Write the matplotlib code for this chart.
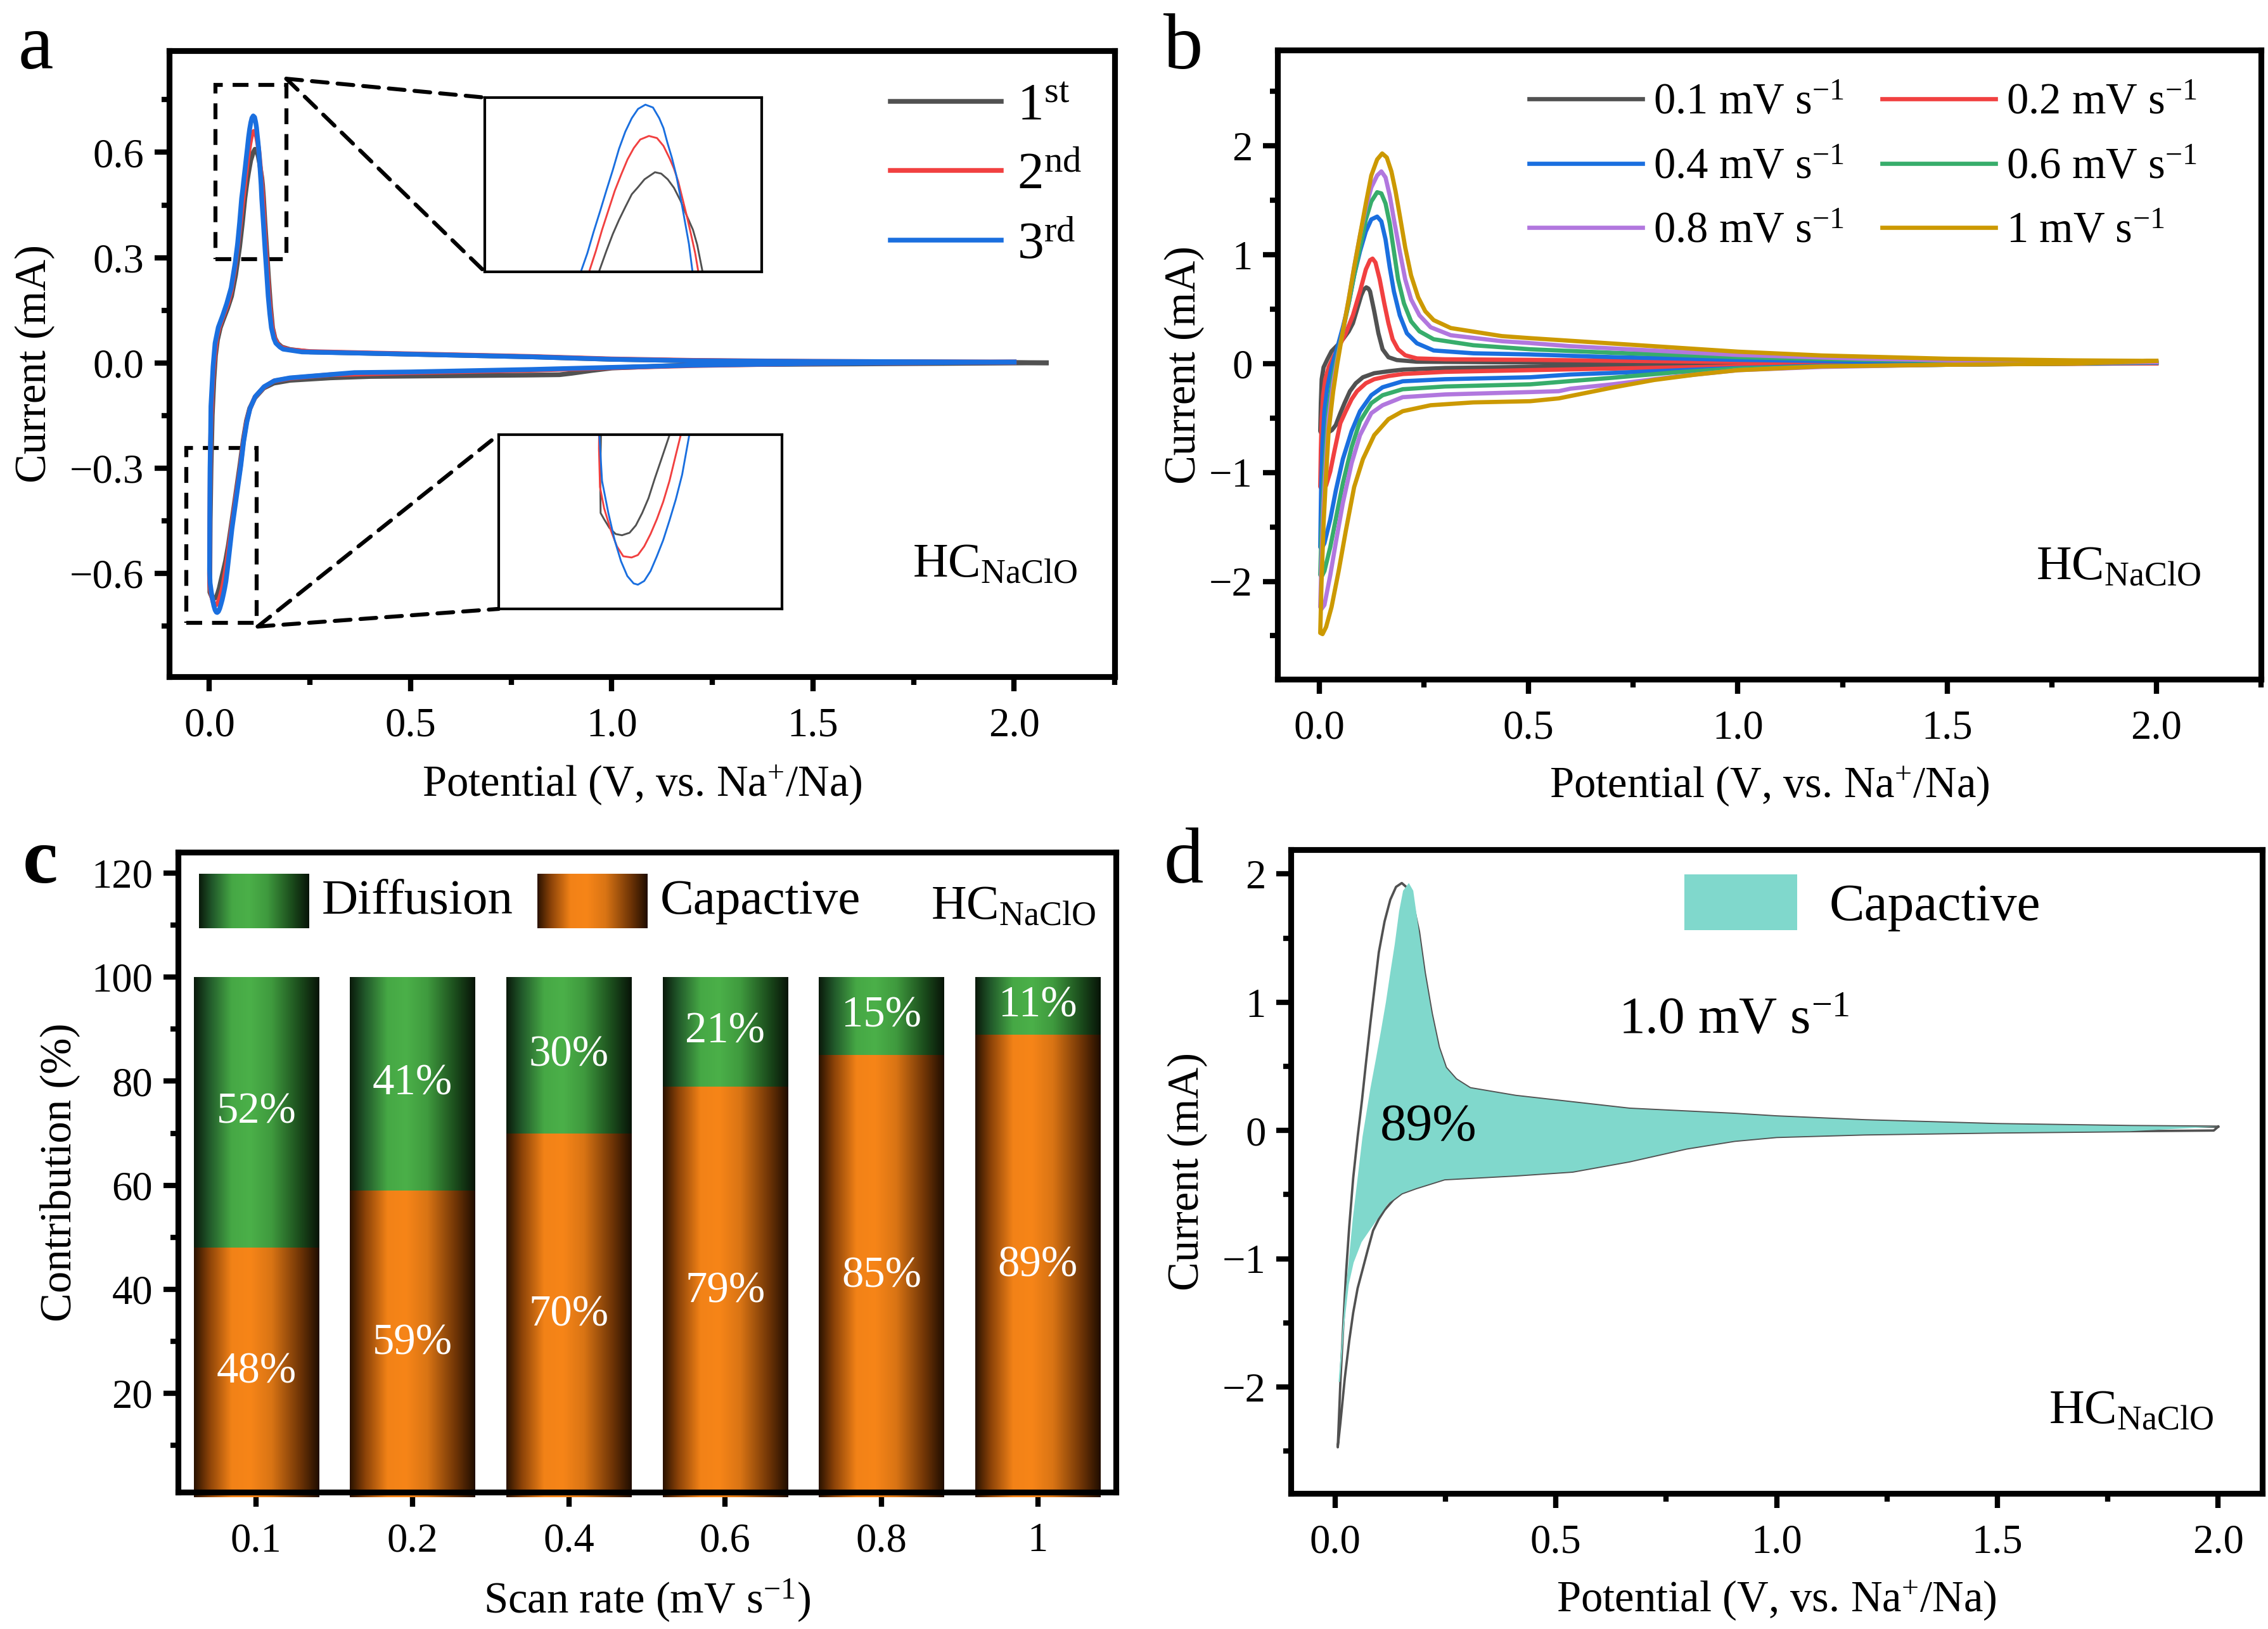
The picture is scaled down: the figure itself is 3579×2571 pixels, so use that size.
import numpy as np
import matplotlib
matplotlib.use("Agg")
import matplotlib.pyplot as plt
from matplotlib.colors import LinearSegmentedColormap
from matplotlib.patches import Patch, Rectangle, ConnectionPatch
from matplotlib.ticker import MultipleLocator

plt.rcParams["font.family"] = ["Liberation Serif", "DejaVu Serif"]
plt.rcParams["mathtext.fontset"] = "custom"
plt.rcParams["mathtext.rm"] = "Liberation Serif"
plt.rcParams["mathtext.it"] = "Liberation Serif:italic"
plt.rcParams["mathtext.bf"] = "Liberation Serif:bold"
plt.rcParams["axes.linewidth"] = 2.2

# ---- panel a: first three CV cycles (V, mA) ----
A_GRAY_CATH = [(2.08, 0.0), (1.8, -0.002), (1.5, -0.004), (1.2, -0.006), (1.0, -0.015), (0.95, -0.022),
               (0.9, -0.03), (0.87, -0.034), (0.8, -0.035), (0.6, -0.037), (0.4, -0.039), (0.3, -0.043),
               (0.2, -0.05), (0.16, -0.058), (0.135, -0.072), (0.113, -0.1), (0.1, -0.13), (0.092, -0.165),
               (0.084, -0.22), (0.076, -0.29), (0.066, -0.37), (0.056, -0.45), (0.047, -0.52), (0.04, -0.565),
               (0.0348, -0.591), (0.0307, -0.611), (0.0276, -0.626), (0.0245, -0.642), (0.0214, -0.654),
               (0.0183, -0.664), (0.0152, -0.670), (0.0115, -0.672), (0.0084, -0.671), (0.0053, -0.666),
               (0.0027, -0.659), (0.001, -0.654)]
A_GRAY_ANOD = [(0.0008, -0.626), (0.0012, -0.59), (0.002, -0.45), (0.004, -0.3), (0.007, -0.15), (0.011, -0.05),
               (0.015, 0.02), (0.02, 0.065), (0.027, 0.1), (0.035, 0.125), (0.045, 0.155), (0.055, 0.19),
               (0.065, 0.25), (0.075, 0.33), (0.082, 0.40), (0.0881, 0.469), (0.0914, 0.498), (0.0943, 0.522),
               (0.0971, 0.542), (0.0999, 0.560), (0.1028, 0.578), (0.1056, 0.588), (0.1085, 0.599),
               (0.1113, 0.605), (0.1132, 0.609), (0.1160, 0.607), (0.1189, 0.599), (0.1217, 0.587),
               (0.1246, 0.569), (0.1274, 0.548), (0.1302, 0.528), (0.1321, 0.507), (0.1345, 0.469),
               (0.138, 0.40), (0.142, 0.33), (0.147, 0.24), (0.152, 0.16), (0.157, 0.10), (0.163, 0.07),
               (0.17, 0.055), (0.18, 0.045), (0.2, 0.038), (0.25, 0.031), (0.4, 0.027), (0.6, 0.022),
               (0.8, 0.017), (1.0, 0.01), (1.2, 0.006), (1.5, 0.003), (2.0, 0.001), (2.08, 0.0)]
A_RED_CATH = [(2.0, 0.002), (1.5, -0.002), (1.2, -0.008), (1.0, -0.014), (0.8, -0.021), (0.5, -0.028),
              (0.3, -0.034), (0.2, -0.044), (0.16, -0.052), (0.135, -0.07), (0.113, -0.098), (0.1, -0.133),
              (0.092, -0.17), (0.084, -0.228), (0.077, -0.295), (0.066, -0.38), (0.055, -0.47), (0.045, -0.555),
              (0.0403, -0.591), (0.0379, -0.607), (0.0348, -0.628), (0.0317, -0.645), (0.0286, -0.659),
              (0.0255, -0.671), (0.0224, -0.681), (0.0193, -0.688), (0.0162, -0.690), (0.0121, -0.689),
              (0.009, -0.681), (0.0058, -0.667), (0.0027, -0.650), (0.0007, -0.633)]
A_RED_ANOD = [(0.0002, -0.602), (0.001, -0.45), (0.002, -0.3), (0.004, -0.17), (0.007, -0.08), (0.01, -0.02),
              (0.014, 0.03), (0.018, 0.07), (0.024, 0.1), (0.03, 0.12), (0.038, 0.145), (0.046, 0.17),
              (0.054, 0.205), (0.062, 0.26), (0.07, 0.33), (0.077, 0.40), (0.0837, 0.469), (0.0867, 0.498),
              (0.0895, 0.528), (0.0924, 0.556), (0.0952, 0.583), (0.0981, 0.606), (0.1009, 0.627),
              (0.1037, 0.643), (0.1066, 0.655), (0.1105, 0.660), (0.1141, 0.657), (0.1170, 0.646),
              (0.1198, 0.628), (0.1217, 0.614), (0.1236, 0.596), (0.1255, 0.572), (0.1274, 0.548),
              (0.1293, 0.522), (0.1312, 0.495), (0.1326, 0.469), (0.136, 0.40), (0.14, 0.33), (0.144, 0.26),
              (0.148, 0.19), (0.152, 0.14), (0.156, 0.10), (0.162, 0.07), (0.17, 0.052), (0.18, 0.043),
              (0.2, 0.037), (0.25, 0.032), (0.4, 0.028), (0.6, 0.023), (0.8, 0.018), (1.0, 0.011),
              (1.2, 0.007), (1.5, 0.004), (2.0, 0.002)]
A_BLUE_CATH = [(2.0, 0.002), (1.5, -0.002), (1.2, -0.007), (1.0, -0.013), (0.8, -0.019), (0.5, -0.026),
               (0.36, -0.028), (0.2, -0.043), (0.162, -0.051), (0.136, -0.068), (0.114, -0.096), (0.101, -0.130),
               (0.093, -0.169), (0.085, -0.225), (0.078, -0.293), (0.067, -0.383), (0.056, -0.473),
               (0.0445, -0.591), (0.041, -0.623), (0.0379, -0.643), (0.0348, -0.660), (0.0317, -0.676),
               (0.0286, -0.689), (0.0255, -0.701), (0.0224, -0.709), (0.0193, -0.712), (0.0172, -0.711),
               (0.0141, -0.705), (0.011, -0.693), (0.0079, -0.676), (0.0048, -0.654), (0.0017, -0.628),
               (0.0004, -0.591)]
A_BLUE_ANOD = [(0.0008, -0.45), (0.0015, -0.3), (0.003, -0.2), (0.0037, -0.124), (0.009, -0.011), (0.014, 0.056),
               (0.022, 0.101), (0.033, 0.135), (0.043, 0.169), (0.054, 0.214), (0.064, 0.285), (0.070, 0.34),
               (0.075, 0.40), (0.0800, 0.469), (0.0829, 0.495), (0.0857, 0.525), (0.0886, 0.554),
               (0.0914, 0.583), (0.0943, 0.612), (0.0971, 0.642), (0.0999, 0.666), (0.1028, 0.685),
               (0.1056, 0.698), (0.1089, 0.704), (0.1123, 0.700), (0.1151, 0.685), (0.1170, 0.671),
               (0.1188, 0.650), (0.1208, 0.629), (0.1227, 0.605), (0.1245, 0.576), (0.1264, 0.543),
               (0.1284, 0.508), (0.1300, 0.469), (0.134, 0.40), (0.138, 0.327), (0.142, 0.26), (0.146, 0.19),
               (0.150, 0.14), (0.154, 0.10), (0.160, 0.07), (0.165, 0.056), (0.175, 0.045), (0.183, 0.039),
               (0.23, 0.031), (0.4, 0.027), (0.6, 0.022), (0.8, 0.017), (1.0, 0.01), (1.2, 0.006),
               (1.5, 0.004), (2.0, 0.002)]
CYCLE_LABELS = ["1$^{\\mathrm{st}}$", "2$^{\\mathrm{nd}}$", "3$^{\\mathrm{rd}}$"]

# ---- panel b: CVs at different scan rates (V, mA) ----
B01_ANOD = [(0.002, -0.62), (0.0034, -0.363), (0.0054, -0.143), (0.010, -0.033), (0.019, 0.040), (0.029, 0.114),
            (0.043, 0.169), (0.056, 0.224), (0.070, 0.297), (0.080, 0.371), (0.090, 0.499), (0.100, 0.628),
            (0.106, 0.68), (0.112, 0.701), (0.117, 0.69), (0.121, 0.664), (0.131, 0.481), (0.141, 0.279),
            (0.151, 0.132), (0.165, 0.059), (0.185, 0.033), (0.233, 0.018), (0.5, 0.011), (1.0, 0.007),
            (1.5, 0.004), (2.0, 0.002)]
B01_CATH = [(2.0, 0.002), (1.5, -0.004), (1.0, -0.012), (0.7, -0.02), (0.5, -0.03), (0.3, -0.04), (0.2, -0.055),
            (0.165, -0.07), (0.131, -0.088), (0.104, -0.125), (0.087, -0.18), (0.073, -0.253), (0.06, -0.363),
            (0.05, -0.455), (0.039, -0.565), (0.03, -0.61), (0.02, -0.635), (0.01, -0.64), (0.004, -0.635),
            (0.002, -0.62)]
B02_ANOD = [(0.002, -1.13), (0.0034, -0.80), (0.0054, -0.51), (0.009, -0.29), (0.014, -0.143), (0.022, -0.033),
            (0.033, 0.059), (0.046, 0.15), (0.063, 0.279), (0.080, 0.444), (0.097, 0.664), (0.111, 0.866),
            (0.121, 0.951), (0.127, 0.965), (0.134, 0.929), (0.144, 0.775), (0.155, 0.554), (0.165, 0.371),
            (0.175, 0.224), (0.188, 0.132), (0.205, 0.077), (0.233, 0.048), (0.3, 0.04), (0.5, 0.035),
            (1.0, 0.015), (1.5, 0.007), (2.0, 0.004)]
B02_CATH = [(2.0, 0.004), (1.5, -0.008), (1.0, -0.025), (0.7, -0.045), (0.5, -0.06), (0.3, -0.075), (0.2, -0.095),
            (0.165, -0.114), (0.131, -0.143), (0.111, -0.18), (0.09, -0.253), (0.077, -0.327), (0.063, -0.437),
            (0.05, -0.547), (0.036, -0.80), (0.026, -0.99), (0.016, -1.12), (0.005, -1.15), (0.002, -1.13)]
B04_ANOD = [(0.002, -1.685), (0.004, -1.17), (0.0075, -0.73), (0.012, -0.437), (0.019, -0.217), (0.029, -0.033),
            (0.043, 0.150), (0.056, 0.334), (0.070, 0.554), (0.083, 0.811), (0.097, 1.032), (0.111, 1.215),
            (0.124, 1.325), (0.138, 1.351), (0.148, 1.307), (0.158, 1.142), (0.168, 0.885), (0.178, 0.664),
            (0.192, 0.444), (0.209, 0.279), (0.233, 0.187), (0.273, 0.121), (0.368, 0.095), (0.5, 0.085),
            (0.7, 0.06), (1.0, 0.035), (1.3, 0.02), (1.6, 0.012), (2.0, 0.008)]
B04_CATH = [(2.0, 0.008), (1.5, -0.01), (1.2, -0.02), (1.0, -0.04), (0.8, -0.07), (0.6, -0.1), (0.504, -0.125),
            (0.3, -0.143), (0.199, -0.162), (0.151, -0.217), (0.124, -0.29), (0.097, -0.437), (0.077, -0.62),
            (0.056, -0.877), (0.039, -1.17), (0.026, -1.43), (0.012, -1.65), (0.005, -1.70), (0.002, -1.685)]
B06_ANOD = [(0.002, -1.94), (0.005, -1.54), (0.010, -1.10), (0.016, -0.73), (0.022, -0.40), (0.033, -0.106),
            (0.043, 0.077), (0.056, 0.297), (0.070, 0.554), (0.083, 0.811), (0.097, 1.068), (0.111, 1.325),
            (0.124, 1.49), (0.138, 1.575), (0.148, 1.564), (0.158, 1.472), (0.168, 1.289), (0.178, 1.032),
            (0.188, 0.775), (0.202, 0.554), (0.219, 0.389), (0.239, 0.297), (0.273, 0.224), (0.368, 0.169),
            (0.504, 0.132), (0.7, 0.1), (1.0, 0.06), (1.3, 0.035), (1.6, 0.02), (2.0, 0.012)]
B06_CATH = [(2.0, 0.012), (1.5, -0.01), (1.2, -0.025), (1.0, -0.045), (0.85, -0.08), (0.7, -0.13), (0.6, -0.16),
            (0.504, -0.19), (0.3, -0.21), (0.199, -0.235), (0.151, -0.29), (0.124, -0.363), (0.097, -0.529),
            (0.077, -0.767), (0.056, -1.10), (0.039, -1.43), (0.026, -1.685), (0.012, -1.905), (0.005, -1.96),
            (0.002, -1.94)]
B08_ANOD = [(0.002, -2.236), (0.005, -1.795), (0.010, -1.281), (0.016, -0.877), (0.022, -0.51), (0.033, -0.18),
            (0.043, 0.04), (0.056, 0.297), (0.070, 0.591), (0.083, 0.885), (0.097, 1.178), (0.111, 1.435),
            (0.124, 1.619), (0.138, 1.729), (0.148, 1.766), (0.158, 1.711), (0.168, 1.546), (0.178, 1.325),
            (0.192, 1.032), (0.205, 0.775), (0.219, 0.591), (0.239, 0.444), (0.266, 0.334), (0.314, 0.261),
            (0.436, 0.206), (0.5, 0.19), (0.6, 0.16), (0.8, 0.12), (1.0, 0.08), (1.3, 0.045), (1.6, 0.025),
            (2.0, 0.015)]
B08_CATH = [(2.0, 0.015), (1.5, -0.01), (1.2, -0.03), (1.0, -0.06), (0.85, -0.12), (0.7, -0.19), (0.6, -0.23),
            (0.572, -0.253), (0.504, -0.261), (0.3, -0.283), (0.199, -0.308), (0.151, -0.382), (0.124, -0.455),
            (0.097, -0.657), (0.077, -0.914), (0.056, -1.281), (0.039, -1.648), (0.026, -1.942),
            (0.012, -2.217), (0.005, -2.254), (0.002, -2.236)]
B10_ANOD = [(0.002, -2.474), (0.005, -2.015), (0.010, -1.465), (0.016, -1.024), (0.022, -0.62), (0.033, -0.253),
            (0.043, 0.004), (0.056, 0.297), (0.070, 0.591), (0.083, 0.885), (0.097, 1.178), (0.111, 1.472),
            (0.124, 1.729), (0.138, 1.876), (0.150, 1.931), (0.161, 1.894), (0.172, 1.766), (0.182, 1.582),
            (0.192, 1.362), (0.205, 1.068), (0.219, 0.811), (0.236, 0.609), (0.253, 0.481), (0.273, 0.40),
            (0.314, 0.327), (0.436, 0.253), (0.5, 0.235), (0.6, 0.21), (0.8, 0.16), (1.0, 0.11), (1.2, 0.075),
            (1.5, 0.045), (1.8, 0.03), (2.0, 0.025)]
B10_CATH = [(2.0, 0.025), (1.8, 0.0), (1.5, -0.01), (1.2, -0.025), (1.0, -0.06), (0.9, -0.1), (0.8, -0.15),
            (0.7, -0.22), (0.572, -0.319), (0.504, -0.345), (0.368, -0.356), (0.266, -0.382), (0.199, -0.437),
            (0.165, -0.51), (0.131, -0.657), (0.104, -0.877), (0.083, -1.134), (0.063, -1.538), (0.046, -1.905),
            (0.029, -2.236), (0.016, -2.419), (0.0075, -2.485), (0.002, -2.474)]
RATE_LABELS = ["0.1", "0.2", "0.4", "0.6", "0.8", "1"]

# ---- panel c: contribution ratios (%) ----
SCAN_RATES = ["0.1", "0.2", "0.4", "0.6", "0.8", "1"]
CAPACITIVE = [48, 59, 70, 79, 85, 89]
DIFFUSION = [52, 41, 30, 21, 15, 11]

# ---- panel d: 1.0 mV/s CV and capacitive region (V, mA) ----
D_CV_ANOD = [(0.006, -2.47), (0.012, -1.96), (0.019, -1.48), (0.025, -1.10), (0.032, -0.75), (0.041, -0.37),
             (0.051, -0.05), (0.061, 0.24), (0.070, 0.53), (0.080, 0.84), (0.090, 1.13), (0.099, 1.39),
             (0.112, 1.63), (0.125, 1.80), (0.138, 1.90), (0.151, 1.93), (0.161, 1.90), (0.170, 1.83),
             (0.180, 1.71), (0.190, 1.55), (0.203, 1.23), (0.219, 0.91), (0.235, 0.65), (0.251, 0.49),
             (0.274, 0.40), (0.306, 0.33), (0.409, 0.27), (0.538, 0.22), (0.667, 0.17), (0.905, 0.13),
             (1.0, 0.11), (1.2, 0.08), (1.5, 0.05), (1.8, 0.035), (2.0, 0.03)]
D_CV_CATH = [(2.0, 0.03), (1.99, 0.0), (1.8, -0.005), (1.5, -0.015), (1.2, -0.03), (1.0, -0.05), (0.905, -0.08),
             (0.796, -0.14), (0.667, -0.24), (0.538, -0.32), (0.409, -0.35), (0.248, -0.38), (0.183, -0.45),
             (0.151, -0.49), (0.132, -0.54), (0.112, -0.62), (0.099, -0.69), (0.086, -0.78), (0.074, -0.93),
             (0.061, -1.10), (0.051, -1.23), (0.041, -1.42), (0.032, -1.64), (0.022, -1.93), (0.012, -2.28),
             (0.006, -2.47)]
D_CAP_UPPER = [(0.008, -1.96), (0.015, -1.64), (0.022, -1.32), (0.031, -1.01), (0.040, -0.69), (0.051, -0.37),
               (0.062, -0.05), (0.080, 0.33), (0.092, 0.55), (0.104, 0.78), (0.115, 1.0), (0.125, 1.23),
               (0.135, 1.45), (0.145, 1.71), (0.154, 1.87), (0.167, 1.93), (0.177, 1.87), (0.190, 1.55),
               (0.203, 1.23), (0.219, 0.91), (0.235, 0.65), (0.251, 0.49), (0.274, 0.40), (0.306, 0.33),
               (0.409, 0.27), (0.538, 0.22), (0.667, 0.17), (0.905, 0.13), (1.0, 0.11), (1.2, 0.08),
               (1.5, 0.05), (1.8, 0.035), (2.0, 0.03)]
D_CAP_LOWER = [(0.011, -1.96), (0.021, -1.50), (0.031, -1.20), (0.042, -1.03), (0.060, -0.87), (0.080, -0.77),
               (0.100, -0.67), (0.120, -0.57), (0.151, -0.49), (0.183, -0.45), (0.248, -0.38), (0.409, -0.35),
               (0.538, -0.32), (0.667, -0.24), (0.796, -0.14), (0.905, -0.08), (1.0, -0.05), (1.2, -0.03),
               (1.5, -0.015), (1.8, -0.005), (2.0, 0.03)]
D_RATIO = 89

GRAY, RED, BLUE = "#515151", "#F14040", "#1A6FDF"
RATE_COLORS = ["#515151", "#F14040", "#1A6FDF", "#37AD6B", "#B177DE", "#CC9900"]
CAP_FILL = "#80D8CC"

TICK_FS = 15.5
LABEL_FS = 16.5
HC_TEXT = "HC$_{\\mathrm{NaClO}}$"
POT_LABEL = "Potential (V, vs. Na$^{+}$/Na)"


def xy(points):
    arr = np.array(points)
    return arr[:, 0], arr[:, 1]


def loop(cath, anod):
    return xy(cath + anod)


def style(ax, xmaj, xmin, ymaj, ymin):
    if xmaj is not None:
        ax.xaxis.set_major_locator(MultipleLocator(xmaj))
        ax.xaxis.set_minor_locator(MultipleLocator(xmin))
    ax.yaxis.set_major_locator(MultipleLocator(ymaj))
    ax.yaxis.set_minor_locator(MultipleLocator(ymin))
    ax.tick_params(which="both", direction="out", width=2.0, top=False, right=False,
                   labelsize=TICK_FS)
    ax.tick_params(which="major", length=5.5)
    ax.tick_params(which="minor", length=3)
    ax.tick_params(axis="x", which="major", pad=6)
    ax.tick_params(axis="y", which="major", pad=4)


fig = plt.figure(figsize=(3579 / 300, 2571 / 300), dpi=300)

# ================= a =================
ax = fig.add_axes([0.0746, 0.5846, 0.4169, 0.3843])
cycles = [(A_GRAY_CATH, A_GRAY_ANOD, GRAY), (A_RED_CATH, A_RED_ANOD, RED), (A_BLUE_CATH, A_BLUE_ANOD, BLUE)]
for (cath, anod, col), lab in zip(cycles, CYCLE_LABELS):
    v, i = loop(cath, anod)
    ax.plot(v, i, color=col, lw=1.8, label=lab, solid_joinstyle="round")
ax.set_xlim(-0.1, 2.25)
ax.set_ylim(-0.895, 0.89)
style(ax, 0.5, 0.25, 0.3, 0.15)
ax.set_xlabel(POT_LABEL, fontsize=LABEL_FS, labelpad=7)
ax.set_ylabel("Current (mA)", fontsize=LABEL_FS, labelpad=5.5)
ax.legend(loc="upper left", bbox_to_anchor=(0.763, 0.949), frameon=False, fontsize=20,
          handlelength=2.1, handletextpad=0.3, labelspacing=0.4, borderpad=0, borderaxespad=0)
ax.text(0.786, 0.16, HC_TEXT, transform=ax.transAxes, fontsize=18.5, va="baseline")

dash = (0, (4, 2.5))
ax.add_patch(Rectangle((0.015, 0.296), 0.176, 0.496, fill=False, ls=dash, lw=1.5, color="black"))
ax.add_patch(Rectangle((-0.058, -0.742), 0.176, 0.499, fill=False, ls=dash, lw=1.5, color="black"))

ins1 = ax.inset_axes([0.3338, 0.6468, 0.2929, 0.2783])
ins2 = ax.inset_axes([0.3485, 0.1083, 0.2996, 0.2783])
for ins, lim in ((ins1, (0.037, 0.161, 0.469, 0.714)), (ins2, (-0.049, 0.09, -0.7316, -0.5906))):
    for cath, anod, col in cycles:
        v, i = loop(cath, anod)
        ins.plot(v, i, color=col, lw=0.7)
    ins.set_xlim(lim[0], lim[1])
    ins.set_ylim(lim[2], lim[3])
    ins.set_xticks([])
    ins.set_yticks([])
    for sp in ins.spines.values():
        sp.set_linewidth(1.0)

for apex, ins in (((0.191, 0.81), ins1), ((0.12, -0.752), ins2)):
    for corner in ((0, 1), (0, 0)):
        con = ConnectionPatch(xyA=apex, coordsA=ax.transData, xyB=corner, coordsB=ins.transAxes,
                              ls=dash, lw=1.5, color="black")
        ax.add_artist(con)

# ================= b =================
ax = fig.add_axes([0.5633, 0.583, 0.4336, 0.3862])
curves_b = [(B01_CATH, B01_ANOD), (B02_CATH, B02_ANOD), (B04_CATH, B04_ANOD),
            (B06_CATH, B06_ANOD), (B08_CATH, B08_ANOD), (B10_CATH, B10_ANOD)]
handles = []
for (cath, anod), col, rate in zip(curves_b, RATE_COLORS, RATE_LABELS):
    v, i = loop(cath, anod)
    h, = ax.plot(v, i, color=col, lw=1.6, label=rate + " mV s$^{-1}$", solid_joinstyle="round")
    handles.append(h)
ax.set_xlim(-0.1, 2.25)
ax.set_ylim(-2.9, 2.88)
style(ax, 0.5, 0.25, 1, 0.5)
ax.set_xlabel(POT_LABEL, fontsize=LABEL_FS, labelpad=6.5)
ax.set_ylabel("Current (mA)", fontsize=LABEL_FS, labelpad=1.5)
order = [0, 2, 4, 1, 3, 5]
ax.legend([handles[k] for k in order], [handles[k].get_label() for k in order], ncol=2,
          loc="upper left", bbox_to_anchor=(0.256, 0.947), frameon=False, fontsize=16.5,
          handlelength=2.6, handletextpad=0.25, columnspacing=0.87, labelspacing=0.55,
          borderpad=0, borderaxespad=0)
ax.text(0.771, 0.159, HC_TEXT, transform=ax.transAxes, fontsize=18.5, va="baseline")

# ================= c =================
ax = fig.add_axes([0.0785, 0.084, 0.4135, 0.3928])
green_cm = LinearSegmentedColormap.from_list("g", [(0.0, "#0a1a0b"), (0.12, "#21582a"), (0.3, "#46a845"),
                                                   (0.45, "#4bb049"), (0.62, "#3f9a3e"), (0.85, "#1a4a1b"),
                                                   (1.0, "#081408")])
orange_cm = LinearSegmentedColormap.from_list("o", [(0.0, "#2a1200"), (0.12, "#8a4208"), (0.3, "#f28217"),
                                                    (0.45, "#f78518"), (0.62, "#d97414"), (0.85, "#6e3406"),
                                                    (1.0, "#200d00")])
grad = np.linspace(0, 1, 256).reshape(1, -1)
xpos = np.arange(len(SCAN_RATES))
bars_cap = ax.bar(xpos, CAPACITIVE, 0.8, color="none", edgecolor="none")
bars_dif = ax.bar(xpos, DIFFUSION, 0.8, bottom=CAPACITIVE, color="none", edgecolor="none")
for bars, cm in ((bars_cap, orange_cm), (bars_dif, green_cm)):
    for rect in bars:
        x0, y0, w, h = rect.get_x(), rect.get_y(), rect.get_width(), rect.get_height()
        im = ax.imshow(grad, cmap=cm, extent=(x0, x0 + w, y0, y0 + h), aspect="auto", zorder=2)
        im.set_clip_path(rect)
for k in range(len(SCAN_RATES)):
    ax.text(xpos[k], CAPACITIVE[k] / 2, f"{CAPACITIVE[k]}%", color="white", fontsize=16.5,
            ha="center", va="center", zorder=3)
    ax.text(xpos[k], CAPACITIVE[k] + DIFFUSION[k] / 2, f"{DIFFUSION[k]}%", color="white",
            fontsize=16.5, ha="center", va="center", zorder=3)
ax.set_xlim(-0.5, 5.5)
ax.set_ylim(1, 124)
ax.set_xticks(xpos)
ax.set_xticklabels(SCAN_RATES)
style(ax, None, None, 20, 10)
ax.set_xlabel("Scan rate (mV s$^{-1}$)", fontsize=LABEL_FS, labelpad=6.5)
ax.set_ylabel("Contribution (%)", fontsize=LABEL_FS, labelpad=4.5)
for (px, cm, name) in ((0.0223, green_cm, "Diffusion"), (0.383, orange_cm, "Capactive")):
    lax = ax.inset_axes([px, 0.881, 0.117, 0.085])
    lax.imshow(grad, cmap=cm, aspect="auto")
    lax.axis("off")
    ax.text(px + 0.131, 0.923, name, transform=ax.transAxes, fontsize=19, va="center")
ax.text(0.803, 0.896, HC_TEXT, transform=ax.transAxes, fontsize=18.5, va="baseline")

# ================= d =================
ax = fig.add_axes([0.5692, 0.0832, 0.4283, 0.3952])
uv, ui = xy(D_CAP_UPPER)
lv, li = xy(D_CAP_LOWER)
ax.plot(*loop(D_CV_CATH, D_CV_ANOD), color=GRAY, lw=0.9, zorder=2)
ax.fill(np.r_[uv, lv[::-1]], np.r_[ui, li[::-1]], color=CAP_FILL, lw=0, zorder=3)
ax.set_xlim(-0.1, 2.1)
ax.set_ylim(-2.83, 2.19)
style(ax, 0.5, 0.25, 1, 0.5)
ax.set_xlabel(POT_LABEL, fontsize=LABEL_FS, labelpad=6.5)
ax.set_ylabel("Current (mA)", fontsize=LABEL_FS, labelpad=5.5)
ax.legend([Patch(facecolor=CAP_FILL, edgecolor="none")], ["Capactive"], loc="upper left",
          bbox_to_anchor=(0.405, 0.962), frameon=False, fontsize=20, handlelength=2.14,
          handleheight=1.25, handletextpad=0.6, borderpad=0, borderaxespad=0)
ax.text(0.337, 0.715, "1.0 mV s$^{-1}$", transform=ax.transAxes, fontsize=20, va="baseline")
ax.text(0.092, 0.549, f"{D_RATIO}%", transform=ax.transAxes, fontsize=20, va="baseline", zorder=4)
ax.text(0.780, 0.109, HC_TEXT, transform=ax.transAxes, fontsize=18.5, va="baseline")

# panel letters
fig.text(0.008, 0.992, "a", fontsize=30, va="top")
fig.text(0.513, 0.992, "b", fontsize=30, va="top")
fig.text(0.010, 0.492, "c", fontsize=30, va="top", fontweight="bold")
fig.text(0.513, 0.492, "d", fontsize=30, va="top")

fig.savefig("out.png", dpi=300)
